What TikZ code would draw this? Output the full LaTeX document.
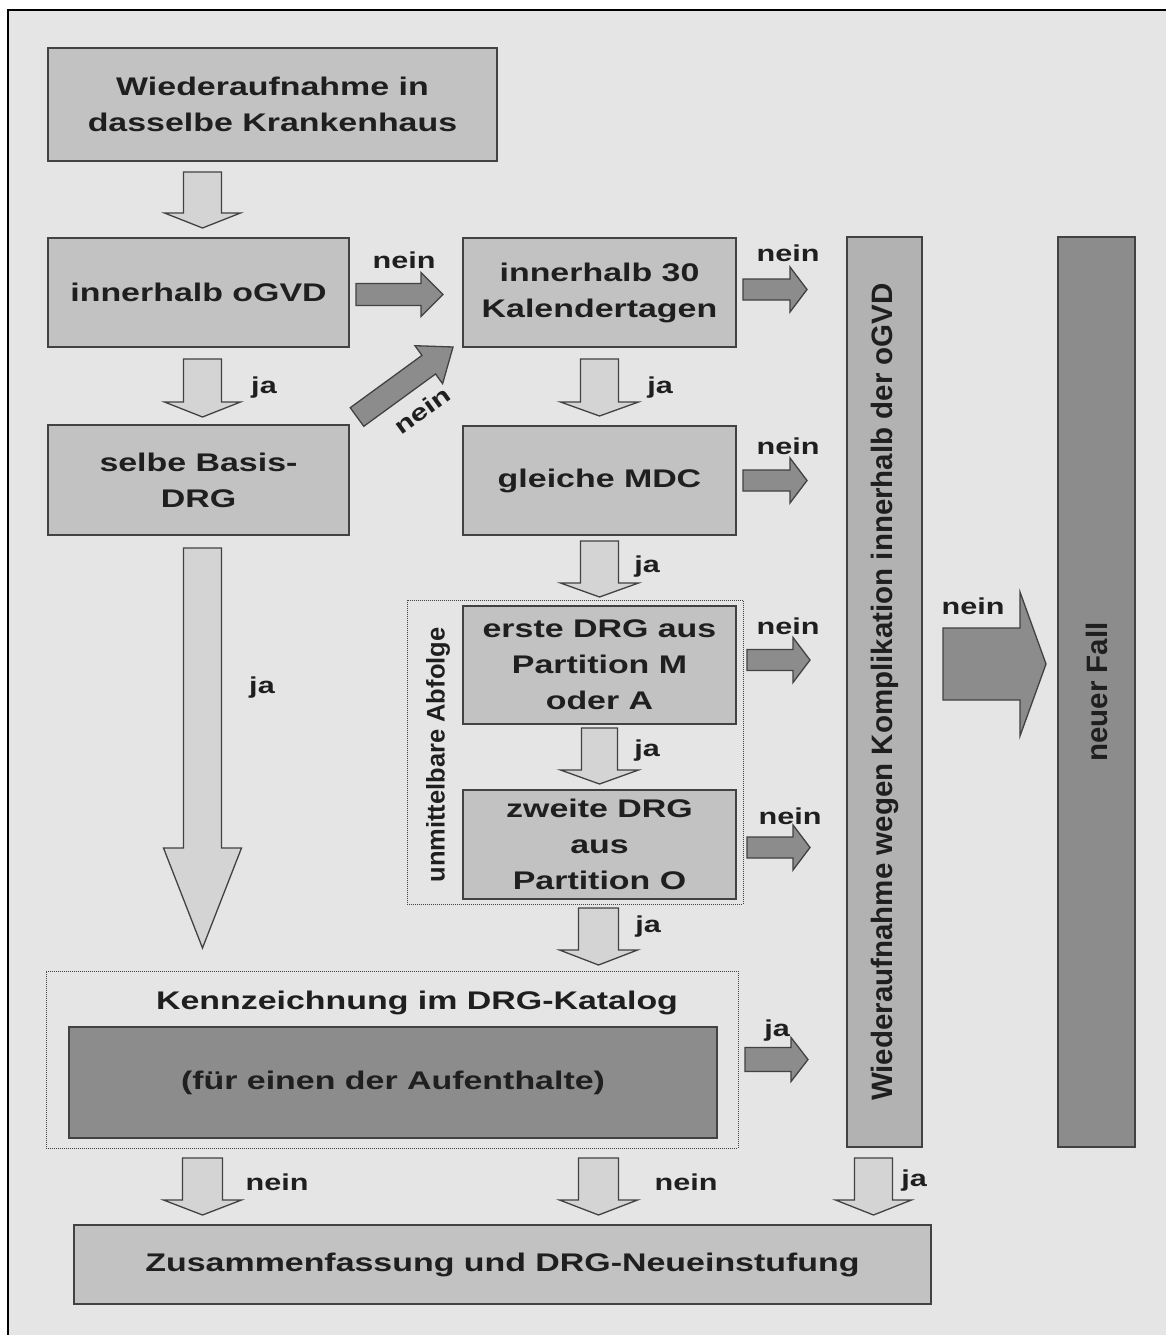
\documentclass[tikz,border=0pt]{standalone}
\usepackage{fontspec}
\setmainfont{Liberation Sans}
\newfontfamily\boxfont[FakeStretch=1.33]{Liberation Sans}
\usetikzlibrary{positioning,calc}

\definecolor{paper}{gray}{0.9}
\definecolor{boxgray}{gray}{0.76}
\definecolor{arrgray}{gray}{0.83}
\definecolor{deepgray}{gray}{0.55}
\definecolor{colgray}{gray}{0.7}
\definecolor{edge}{gray}{0.26}
\definecolor{ink}{gray}{0.12}

\begin{document}
\begin{tikzpicture}[x=1pt, y=-1pt,
  box/.style={draw=edge, line width=1.5pt, fill=boxgray, align=center, inner sep=4pt, outer sep=0pt, text=ink, font=\boxfont\bfseries\fontsize{25.5}{36}\selectfont},
  group/.style={draw=edge, line width=0.9pt, dash pattern=on 1pt off 1pt, inner sep=0pt, outer sep=0pt},
  lbl/.style={text=ink, inner sep=0pt, font=\boxfont\bfseries\fontsize{23}{23}\selectfont},
  side/.style={rotate=90, text=ink, inner sep=0pt, font=\bfseries\fontsize{#1}{#1}\selectfont},
  barr/.style n args={3}{draw=edge, line width=1.3pt, line join=miter, to path={
    ($(\tikztotarget)!#3!(\tikztostart)$) coordinate (neck)
    ($(\tikztostart)!#1!90:(\tikztotarget)$)
    -- ($(neck)!#1!90:(\tikztotarget)$)
    -- ($(neck)!#2!90:(\tikztotarget)$)
    -- (\tikztotarget)
    -- ($(neck)!#2!-90:(\tikztotarget)$)
    -- ($(neck)!#1!-90:(\tikztotarget)$)
    -- ($(\tikztostart)!#1!-90:(\tikztotarget)$)
    -- cycle}},
  pale/.style={fill=arrgray},
  deep/.style={fill=deepgray}
]

\useasboundingbox (0,0) rectangle (1166,1335);
\fill[white] (0,0) rectangle (1166,1335);
\fill[paper] (8,10) rectangle (1166,1335);
\draw[line width=1.2pt] (8,1335) -- (8,10) -- (1166,10);

\node[box, minimum width=449pt, minimum height=113pt] (wieder) at (272.5,104.5) {Wiederaufnahme in\\dasselbe Krankenhaus};
\node[box, minimum width=301pt, minimum height=109pt] (ogvd) at (198.5,292.5) {innerhalb oGVD};
\node[box, minimum width=273pt, minimum height=109pt, right=114pt of ogvd] (kal) {innerhalb 30\\Kalendertagen};
\node[box, minimum width=301pt, minimum height=110pt, below=78pt of ogvd] (basis) {selbe Basis-\\DRG};
\node[box, minimum width=273pt, minimum height=109pt, below=79pt of kal] (mdc) {gleiche MDC};

\node[group, minimum width=336pt, minimum height=304pt] (folge) at (575,752) {};
\node[side=25.5] (folgetxt) at (438,755) {unmittelbare Abfolge};
\node[box, minimum width=273pt, minimum height=118pt, below=71pt of mdc] (erste) {erste DRG aus\\Partition M\\oder A};
\node[box, minimum width=273pt, minimum height=109pt, below=66pt of erste] (zweite) {zweite DRG\\aus\\Partition O};

\node[group, minimum width=692pt, minimum height=177pt] (kenn) at (392,1059.5) {};
\node[lbl, font=\boxfont\bfseries\fontsize{25.5}{36}\selectfont] (kenntxt) at (417,1003) {Kennzeichnung im DRG-Katalog};
\node[box, fill=deepgray, minimum width=648pt, minimum height=111pt] (aufent) at (393,1082.5) {(für einen der Aufenthalte)};

\node[box, minimum width=857pt, minimum height=79pt] (neu) at (502.5,1264.5) {Zusammenfassung und DRG-Neueinstufung};

\node[box, fill=colgray, minimum width=75pt, minimum height=910pt] (kompl) at (884.5,692) {};
\node[side=29.5] (komtxt) at (kompl) {Wiederaufnahme wegen Komplikation innerhalb der oGVD};
\node[box, fill=deepgray, minimum width=77pt, minimum height=910pt] (fall) at (1096.5,692) {};
\node[side=29.5] (falltxt) at (fall) {neuer Fall};

\draw[barr={19pt}{38pt}{15pt}, pale] ($(wieder.south -| ogvd.south)+(4,11)$) to ($(ogvd.north)+(4,-10)$);
\draw[barr={19pt}{38pt}{15pt}, pale] ($(ogvd.south)+(4,12)$) to ($(basis.north)+(4,-8)$);
\draw[barr={19pt}{39pt}{100pt}, pale] ($(basis.south)+(4,13)$) to ($(basis.south |- kenn.north)+(4,-23)$);
\draw[barr={19pt}{39pt}{14pt}, pale] ($(kal.south)+(0,12)$) to ($(mdc.north)+(0,-10)$);
\draw[barr={19pt}{39pt}{14pt}, pale] ($(mdc.south)+(0,6)$) to ($(erste.north)+(0,-9)$);
\draw[barr={18pt}{39pt}{14pt}, pale] ($(erste.south)+(0,4)$) to ($(zweite.north)+(0,-6)$);
\draw[barr={20pt}{39pt}{15pt}, pale] ($(zweite.south)+(-1,9)$) to ($(kenn.north -| zweite.north)+(-1,-6)$);
\draw[barr={20pt}{39pt}{15pt}, pale] ($(kenn.south -| ogvd.south)+(4,10)$) to ($(neu.north -| ogvd.south)+(4,-10)$);
\draw[barr={20pt}{39pt}{15pt}, pale] ($(kenn.south -| zweite.south)+(-1,10)$) to ($(neu.north -| zweite.south)+(-1,-10)$);
\draw[barr={19pt}{38pt}{15pt}, pale] ($(kompl.south)+(-11,11)$) to ($(kompl.south |- neu.north)+(-11,-10)$);

\draw[barr={11pt}{22pt}{22pt}, deep] ($(ogvd.east)+(7,2)$) to ($(kal.west)+(-20,2)$);
\draw[barr={11.5pt}{23.5pt}{30pt}, deep] ($(basis.north east)+(8,-8)$) to ($(kal.south west)+(-10,0)$);
\draw[barr={10.5pt}{22.5pt}{17pt}, deep] ($(kal.east)+(7,-3)$) to ($(kal.east -| kompl.west)+(-40,-3)$);
\draw[barr={10.5pt}{22.5pt}{17pt}, deep] ($(mdc.east)+(7,0)$) to ($(mdc.east -| kompl.west)+(-40,0)$);
\draw[barr={10.5pt}{22.5pt}{17pt}, deep] ($(erste.east)+(11,-5)$) to ($(erste.east -| kompl.west)+(-37,-5)$);
\draw[barr={10.5pt}{22.5pt}{17pt}, deep] ($(zweite.east)+(11,3)$) to ($(zweite.east -| kompl.west)+(-37,3)$);
\draw[barr={12pt}{22pt}{17pt}, deep] ($(kenn.east)+(7,0)$) to ($(kenn.east -| kompl.west)+(-39,0)$);
\draw[barr={36pt}{72pt}{26pt}, deep] ($(kompl.east)+(21,-28)$) to ($(fall.west)+(-12,-28)$);

\node[lbl] (l1) at (404,260) {nein};
\node[lbl, rotate=36] (l2) at (422,410) {nein};
\node[lbl] (l3) at (264,388) {ja};
\node[lbl] (l4) at (262,688) {ja};
\node[lbl] (l5) at (788,253) {nein};
\node[lbl] (l6) at (660,388) {ja};
\node[lbl] (l7) at (788,446) {nein};
\node[lbl] (l8) at (647,567) {ja};
\node[lbl] (l9) at (788,626) {nein};
\node[lbl] (l10) at (647,751) {ja};
\node[lbl] (l11) at (790,816) {nein};
\node[lbl] (l12) at (648,927) {ja};
\node[lbl] (l13) at (777,1031) {ja};
\node[lbl] (l14) at (973,606) {nein};
\node[lbl] (l15) at (277,1182) {nein};
\node[lbl] (l16) at (686,1182) {nein};
\node[lbl] (l17) at (914,1181) {ja};

\end{tikzpicture}
\end{document}
